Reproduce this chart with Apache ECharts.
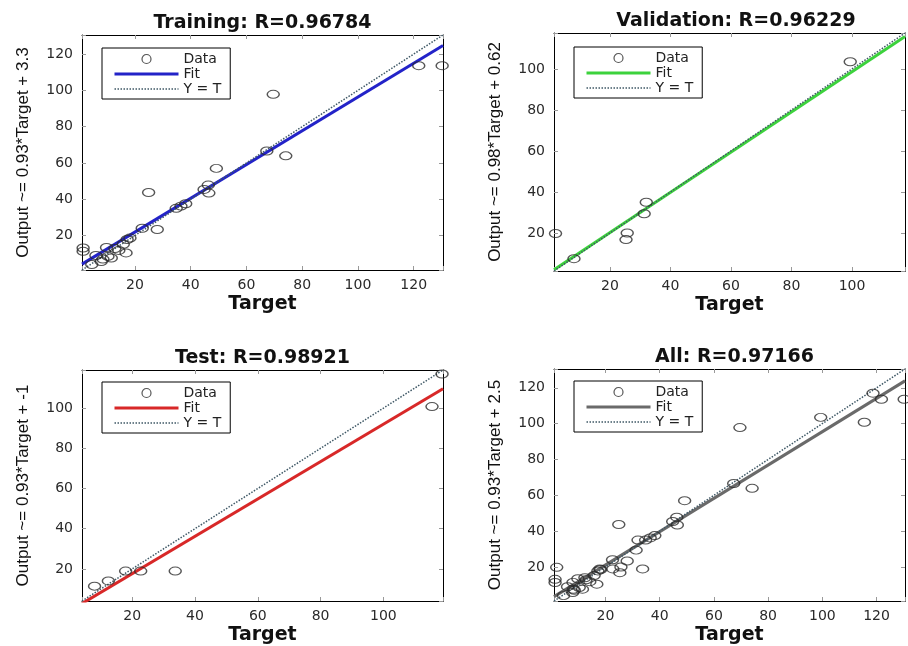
<!DOCTYPE html>
<html><head><meta charset="utf-8">
<script src="https://cdn.jsdelivr.net/npm/echarts@6/dist/echarts.min.js"></script>
<style>html,body{margin:0;padding:0;background:#fff}#c{width:908px;height:646px}</style>
</head><body><div id="c"></div>
<script>
// ---------------- data ----------------
const panelTitles = ['Training: R=0.96784', 'Validation: R=0.96229', 'Test: R=0.98921', 'All: R=0.97166'];
const yAxisNames = ['Output ~= 0.93*Target + 3.3', 'Output ~= 0.98*Target + 0.62', 'Output ~= 0.93*Target + -1', 'Output ~= 0.93*Target + 2.5'];
const xAxisName = 'Target';
const legendNames = ['Data', 'Fit', 'Y = T'];

const trainTarget = [130.2, 121.8, 69.6, 67.3, 74.1, 49.2, 46.3, 44.8, 46.5, 24.9, 38.2, 36.5, 34.8, 28.0, 22.6, 18.2, 17.2, 16.8, 15.8, 1.4, 1.4, 9.8, 12.8, 14.2, 10.3, 7.9, 4.5, 11.5, 8.5, 6.0];
const trainOutput = [113.6, 113.6, 97.8, 66.6, 63.9, 57.0, 47.8, 45.4, 43.4, 43.7, 37.5, 36.2, 35.0, 23.3, 24.0, 18.6, 17.8, 10.4, 15.2, 13.1, 11.3, 13.4, 12.8, 11.8, 8.5, 5.7, 4.0, 7.6, 7.0, 9.0];

const valTarget = [99.4, 32.0, 31.3, 25.7, 25.3, 2.0, 8.1];
const valOutput = [103.5, 35.0, 29.4, 20.0, 16.8, 19.8, 7.5];

const testTarget = [8.0, 12.4, 17.9, 22.7, 33.7, 115.5, 118.7];
const testOutput = [11.4, 14.0, 18.9, 18.9, 18.9, 100.8, 117.0];

const allTarget = trainTarget.concat(valTarget, testTarget);
const allOutput = trainOutput.concat(valOutput, testOutput);

const fitSlope = [0.93, 0.98, 0.93, 0.93];
const fitIntercept = [3.3, 0.62, -1, 2.5];
const axisLimits = [[1, 130.5], [1.5, 117.5], [4, 119], [1, 130.5]];

// ---------------- layout / style ----------------
const targets = [trainTarget, valTarget, testTarget, allTarget];
const outputs = [trainOutput, valOutput, testOutput, allOutput];
const grids = [
  { left: 82, top: 35, width: 361, height: 235 },
  { left: 554, top: 33, width: 364, height: 238 },
  { left: 82, top: 370, width: 361, height: 235 },
  { left: 554, top: 369, width: 361, height: 237 }
];
const legendPos = [[102, 48], [574, 47], [102, 382], [574, 381]];
const fitColors = ['#2323c8', '#3cd23c', '#d82828', '#6a6a6a'];
const idColor = '#3f5866';
const tickFont = { fontFamily: 'DejaVu Sans', fontSize: 14, color: '#2a2a2a' };
const hidden = { color: 'rgba(0,0,0,0)', borderColor: 'rgba(0,0,0,0)', borderWidth: 0 };

const xAxes = [], yAxes = [], series = [], titles = [], legends = [];
const fmt = v => (Math.abs(v % 20) < 1e-9 ? String(v) : '');

for (let i = 0; i < 4; i++) {
  const [lo, hi] = axisLimits[i];
  const g = grids[i];
  const common = { gridIndex: i, type: 'value', min: lo, max: hi, minInterval: 20, maxInterval: 20, splitLine: { show: false },
    axisLine: { show: true, onZero: false, lineStyle: { color: '#000', width: 1 } },
    axisTick: { show: true, inside: true, length: 4, lineStyle: { color: '#999' } } };
  xAxes.push(Object.assign({}, common, { position: 'bottom', name: xAxisName, nameLocation: 'middle', nameGap: 25,
    nameTextStyle: { fontFamily: 'DejaVu Sans', fontWeight: 'bold', fontSize: 19, color: '#111' },
    axisLabel: Object.assign({ margin: 8, formatter: fmt }, tickFont) }));
  yAxes.push(Object.assign({}, common, { position: 'left', name: yAxisNames[i], nameLocation: 'middle', nameGap: 50, nameRotate: 90,
    nameTextStyle: { fontFamily: 'Liberation Sans', fontSize: 17, color: '#111' },
    axisLabel: Object.assign({ margin: 9, formatter: fmt }, tickFont) }));
  titles.push({ text: panelTitles[i], left: g.left + g.width / 2, top: g.top - 21, textAlign: 'center', padding: 0,
    textStyle: { fontFamily: 'DejaVu Sans', fontWeight: 'bold', fontSize: 19, color: '#111' } });
  legends.push({ orient: 'vertical', left: legendPos[i][0], top: legendPos[i][1], padding: [4, 9, 3, 11],
    itemWidth: 64, itemHeight: 9, itemGap: 1, itemTextGap: 6, borderColor: '#000', borderWidth: 1, borderRadius: 0,
    backgroundColor: '#fff', selectedMode: false,
    textStyle: { fontFamily: 'DejaVu Sans', fontSize: 14, color: '#222', lineHeight: 14 },
    data: [
      { name: legendNames[0], icon: 'circle', itemStyle: { color: '#fff', borderColor: '#2a2a2a', borderWidth: 1.2 } },
      { name: legendNames[1], lineStyle: { color: fitColors[i], width: 3, type: 'solid', opacity: 1 }, itemStyle: hidden },
      { name: legendNames[2], lineStyle: { color: idColor, width: 1.5, type: 'dotted', opacity: 1 }, itemStyle: hidden }
    ] });
  series.push({ name: legendNames[1], type: 'line', xAxisIndex: i, yAxisIndex: i, symbol: 'none', z: 2, silent: true, clip: true,
    lineStyle: { color: fitColors[i], width: 3 }, itemStyle: { color: fitColors[i] },
    data: [[lo, fitSlope[i] * lo + fitIntercept[i]], [hi, fitSlope[i] * hi + fitIntercept[i]]] });
  series.push({ name: legendNames[2], type: 'line', xAxisIndex: i, yAxisIndex: i, symbol: 'none', z: 3, silent: true, clip: true,
    lineStyle: { color: idColor, width: 1.5, type: 'dotted' }, itemStyle: { color: idColor },
    data: [[lo, lo], [hi, hi]] });
  series.push({ name: legendNames[0], type: 'scatter', xAxisIndex: i, yAxisIndex: i, symbol: 'circle', symbolSize: [12, 8], z: 4,
    itemStyle: { color: 'rgba(0,0,0,0)', borderColor: '#2a2a2a', borderWidth: 1.2 },
    data: targets[i].map((t, k) => [t, outputs[i][k]]) });
}
for (let i = 0; i < 4; i++) {
  const [lo, hi] = axisLimits[i];
  xAxes.push({ gridIndex: i, type: 'value', position: 'top', min: lo, max: hi, minInterval: 20, maxInterval: 20, splitLine: { show: false },
    axisLine: { show: true, onZero: false, lineStyle: { color: '#000' } }, axisLabel: { show: false },
    axisTick: { show: true, inside: true, length: 4, lineStyle: { color: '#999' } } });
  yAxes.push({ gridIndex: i, type: 'value', position: 'right', min: lo, max: hi, minInterval: 20, maxInterval: 20, splitLine: { show: false },
    axisLine: { show: true, onZero: false, lineStyle: { color: '#000' } }, axisLabel: { show: false },
    axisTick: { show: true, inside: true, length: 4, lineStyle: { color: '#999' } } });
}

const chart = echarts.init(document.getElementById('c'), null, { renderer: 'canvas' });
chart.setOption({
  backgroundColor: '#fff',
  animation: false,
  title: titles,
  legend: legends,
  grid: grids,
  xAxis: xAxes,
  yAxis: yAxes,
  series: series
});
</script></body></html>
